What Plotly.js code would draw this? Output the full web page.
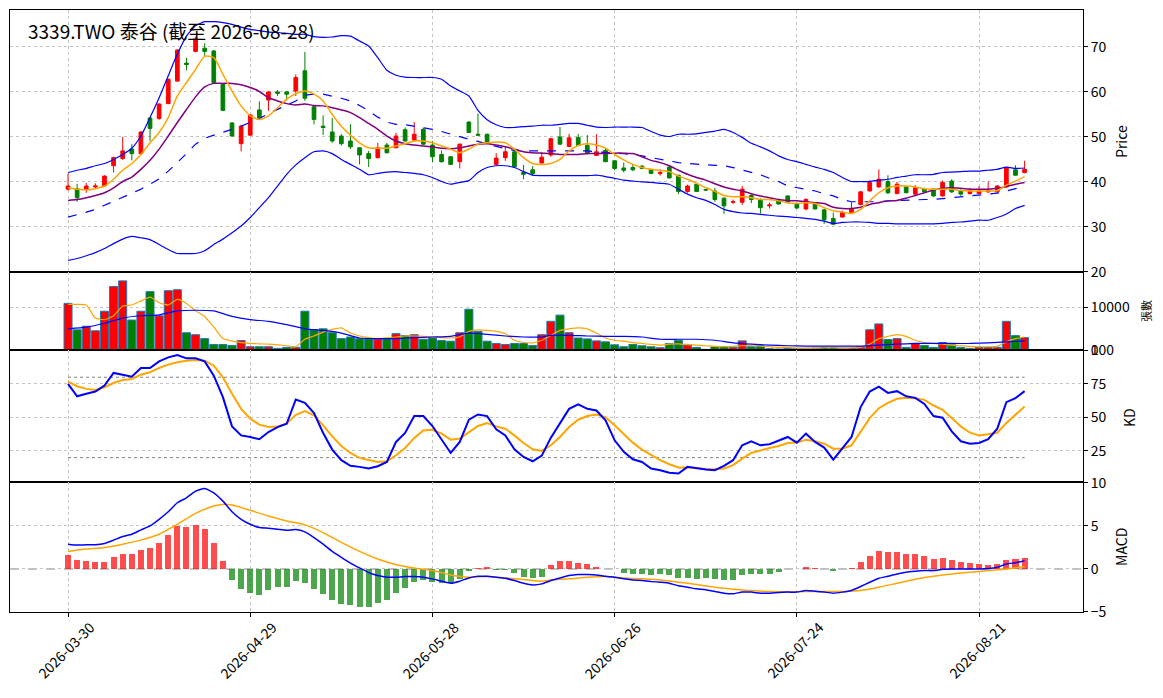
<!DOCTYPE html>
<html>
<head>
<meta charset="utf-8">
<script src="https://cdn.plot.ly/plotly-3.0.1.min.js"></script>
<style>html,body{margin:0;padding:0;background:#fff;}#chart{width:1163px;height:698px;}</style>
</head>
<body>
<div id="chart"></div>
<script>
const dates = ["2026-03-30","2026-03-31","2026-04-01","2026-04-02","2026-04-07","2026-04-08","2026-04-09","2026-04-10","2026-04-13","2026-04-14",
"2026-04-15","2026-04-16","2026-04-17","2026-04-20","2026-04-21","2026-04-22","2026-04-23","2026-04-24","2026-04-27","2026-04-28",
"2026-04-29","2026-04-30","2026-05-04","2026-05-05","2026-05-06","2026-05-07","2026-05-08","2026-05-11","2026-05-12","2026-05-13",
"2026-05-14","2026-05-15","2026-05-18","2026-05-19","2026-05-20","2026-05-21","2026-05-22","2026-05-25","2026-05-26","2026-05-27",
"2026-05-28","2026-05-29","2026-06-01","2026-06-02","2026-06-03","2026-06-04","2026-06-05","2026-06-08","2026-06-09","2026-06-10",
"2026-06-11","2026-06-12","2026-06-15","2026-06-16","2026-06-17","2026-06-18","2026-06-22","2026-06-23","2026-06-24","2026-06-25",
"2026-06-26","2026-06-29","2026-06-30","2026-07-01","2026-07-02","2026-07-03","2026-07-06","2026-07-07","2026-07-08","2026-07-09",
"2026-07-10","2026-07-13","2026-07-14","2026-07-15","2026-07-16","2026-07-17","2026-07-20","2026-07-21","2026-07-22","2026-07-23",
"2026-07-24","2026-07-27","2026-07-28","2026-07-29","2026-07-30","2026-07-31","2026-08-03","2026-08-04","2026-08-05","2026-08-06",
"2026-08-07","2026-08-10","2026-08-11","2026-08-12","2026-08-13","2026-08-14","2026-08-17","2026-08-18","2026-08-19","2026-08-20",
"2026-08-21","2026-08-24","2026-08-25","2026-08-26","2026-08-27","2026-08-28"];

const openP = [38.4,38.5,38.4,38.9,39.1,43.6,45.2,47.3,46.3,54.2,54.1,57.4,62.4,66.4,69.0,69.7,69.1,61.7,53.1,48.5,
50.4,56.0,58.2,60.0,60.0,60.2,64.7,56.7,52.4,51.1,50.2,49.1,47.6,46.3,45.4,48.2,47.6,51.6,49.3,51.7,
48.2,46.1,45.6,44.5,53.3,50.6,50.6,43.9,45.4,46.7,42.1,42.7,44.2,46.0,50.0,47.9,49.9,48.1,45.9,47.0,
44.7,43.1,43.2,43.5,42.8,41.9,43.3,41.5,37.9,39.5,38.3,38.0,36.4,35.5,35.5,37.0,36.1,34.7,36.1,36.9,
35.2,34.0,35.2,33.8,31.9,32.2,33.2,35.0,38.0,38.9,40.1,37.4,38.9,37.3,38.4,38.4,36.9,40.2,38.0,37.4,
37.4,37.8,37.8,38.9,42.7,42.1];
const highP = [41.9,39.6,39.8,39.7,41.5,45.6,50.0,48.4,51.3,54.4,57.5,63.0,69.5,67.6,72.3,70.8,69.3,61.9,53.3,52.6,
55.0,57.9,60.2,60.4,60.2,63.9,68.9,56.9,54.8,54.2,50.6,52.8,47.6,46.9,48.7,48.7,50.9,52.1,53.3,52.1,
49.1,47.0,45.7,48.5,53.5,55.2,50.7,46.4,47.9,46.9,43.8,43.5,46.7,49.8,52.2,50.7,50.7,50.4,50.6,47.5,
44.8,44.3,43.8,43.8,42.8,42.8,43.5,41.6,39.4,39.6,38.4,38.7,36.6,36.1,39.1,37.3,36.4,35.4,36.3,37.0,
35.4,36.4,35.3,34.1,33.2,33.6,35.5,38.0,40.4,42.8,41.5,40.0,39.0,39.3,38.7,38.6,40.3,40.6,38.4,38.7,
39.1,40.1,39.3,43.3,43.7,44.7];
const lowP = [38.1,35.6,37.6,38.5,38.9,42.1,44.9,44.8,46.1,49.1,53.8,57.3,62.3,64.8,68.8,68.0,62.0,55.8,50.1,46.8,
50.3,54.2,55.8,59.1,58.1,59.1,58.0,52.8,50.4,48.7,48.1,47.3,43.9,43.3,45.2,46.3,47.5,49.0,49.1,48.2,
44.4,44.3,43.8,43.0,50.9,50.2,48.5,43.7,44.7,43.3,40.6,41.4,44.1,45.6,48.3,47.7,48.0,46.1,45.8,44.4,
42.6,42.1,42.4,42.8,41.7,41.4,40.8,37.3,37.6,37.8,38.1,35.6,32.9,35.1,34.9,35.3,33.0,34.1,35.0,35.3,
34.1,33.7,33.9,30.7,30.5,32.1,33.0,34.8,37.9,38.7,37.3,37.3,37.5,37.1,37.6,36.7,36.7,37.6,36.9,37.3,
37.3,37.6,37.6,38.7,41.4,41.9];
const closeP = [39.1,36.5,39.1,39.1,41.3,45.4,46.9,46.3,51.1,51.9,57.3,62.8,69.3,66.1,71.8,69.0,62.1,55.9,50.2,52.4,
54.9,54.3,60.0,59.7,59.5,63.2,58.6,53.9,52.1,49.1,48.5,47.8,46.0,45.2,47.6,46.5,50.2,49.1,50.6,48.4,
45.6,44.5,43.9,48.4,51.0,50.4,48.7,45.3,46.7,43.4,41.7,41.9,45.5,49.6,48.4,49.8,48.1,46.3,46.7,44.5,
43.0,42.6,42.7,43.0,41.9,42.1,40.9,37.9,39.1,37.9,38.2,36.1,34.7,35.6,38.4,36.1,34.3,34.9,35.1,35.4,
34.2,36.1,34.0,31.6,30.6,33.2,34.1,37.8,39.9,40.6,37.6,39.5,37.6,38.7,37.8,36.9,39.9,37.8,37.3,38.0,
38.0,38.0,39.1,43.2,41.5,42.8];

const ma5 = [38.7,38.4,38.2,38.5,39.1,40.6,42.6,44.1,46.1,48.7,51.0,54.3,59.1,62.1,65.0,67.9,67.6,63.9,60.2,56.9,
54.7,53.9,54.7,56.5,58.4,59.6,60.2,59.5,58.0,55.0,52.4,50.4,48.7,47.6,47.5,47.5,48.0,48.5,49.1,49.1,
48.7,48.0,47.3,46.5,47.3,48.4,48.7,48.9,48.7,47.3,45.4,44.1,43.9,44.1,45.0,46.9,48.1,48.5,48.2,47.5,
46.1,44.9,43.9,43.2,42.8,42.6,42.3,41.3,40.6,39.7,38.7,37.9,37.0,36.7,36.7,36.5,36.1,36.1,35.8,35.4,
35.2,35.4,35.2,34.3,33.6,33.3,33.0,33.9,35.8,37.6,38.7,39.1,39.1,38.9,38.5,38.4,38.4,38.4,38.1,38.0,
38.0,38.0,38.1,39.3,40.2,41.2];
const ma10 = [35.9,36.1,36.5,37.0,37.6,38.7,40.1,41.1,42.8,44.8,47.3,50.2,53.2,56.1,58.9,61.1,61.9,61.9,61.9,61.6,
61.0,60.1,58.7,58.0,57.4,57.1,57.3,57.0,56.9,56.5,56.0,55.4,54.3,53.0,51.7,50.2,49.1,48.5,48.2,48.0,
47.8,47.5,47.4,47.6,48.0,48.4,48.5,48.2,47.8,47.3,46.7,46.5,46.4,46.3,46.1,46.1,46.1,46.3,46.3,46.3,
46.4,46.4,46.3,45.6,44.8,44.3,43.6,42.6,41.7,41.0,40.4,39.6,38.9,38.4,38.0,37.4,36.9,36.5,36.1,35.9,
35.8,35.6,35.4,35.2,34.4,34.1,34.1,34.4,35.0,35.4,35.8,35.9,36.4,37.0,37.6,38.2,38.6,38.7,38.6,38.4,
38.4,38.4,38.6,39.0,39.5,39.9];
const bbMid = [32.2,32.7,33.3,33.9,34.8,35.8,36.7,37.6,38.4,39.5,40.7,42.4,44.3,46.3,48.4,49.7,50.4,51.0,51.7,52.4,
53.2,54.1,55.2,56.1,57.0,58.0,59.3,59.5,59.5,59.1,58.6,58.0,57.0,55.8,54.4,53.3,52.8,52.7,52.4,52.1,
51.7,51.2,50.6,50.1,49.5,49.0,48.4,47.9,47.4,47.0,46.9,46.9,46.9,46.9,47.0,47.0,47.0,46.9,46.7,46.5,
46.4,46.3,46.1,45.8,45.4,45.0,44.7,44.3,44.1,43.9,43.8,43.7,43.6,43.2,42.7,42.1,41.6,40.8,40.1,39.1,
38.7,38.4,38.0,37.4,36.9,36.1,35.6,35.6,35.6,35.6,35.8,35.9,36.0,36.1,36.1,36.1,36.3,36.5,36.7,36.9,
37.0,37.3,37.5,38.0,38.5,39.0];
const bbUp = [42.1,42.6,43.0,43.6,44.1,45.0,46.1,47.5,50.2,54.3,58.7,63.6,68.4,72.4,74.7,75.6,75.6,75.4,75.0,74.4,
73.9,73.6,73.3,73.2,73.0,72.8,72.8,72.3,72.1,72.2,72.5,72.4,71.3,70.2,67.6,64.8,63.7,63.3,63.2,63.2,
63.2,62.8,61.3,60.2,59.1,55.9,53.8,52.7,52.1,52.1,52.3,52.4,52.6,52.6,52.8,53.0,53.0,52.6,52.2,52.1,
52.2,52.2,52.2,52.1,51.2,50.4,50.1,50.6,50.6,50.7,51.0,51.3,51.7,51.0,49.9,48.6,47.8,46.9,45.8,45.0,
44.5,43.9,43.3,42.8,42.1,41.0,40.1,40.1,40.1,40.4,40.6,41.0,41.3,41.6,41.6,41.7,42.1,42.2,42.3,42.4,
42.4,42.6,42.8,43.3,43.0,43.1];
const bbLow = [22.6,23.0,23.6,24.3,25.2,26.3,27.3,27.9,27.6,27.2,26.1,25.0,24.1,24.1,24.1,24.7,26.1,27.3,28.7,30.2,
32.1,34.3,36.5,39.1,41.7,43.8,45.4,46.7,46.9,46.3,45.0,43.9,42.8,41.6,41.9,42.2,42.3,42.1,41.9,41.6,
41.0,40.1,39.5,39.9,40.3,42.1,43.2,43.6,43.6,43.2,42.3,41.5,41.4,41.4,41.4,41.4,41.4,41.4,41.5,41.2,
40.8,40.4,40.2,40.0,39.9,39.7,39.5,38.4,37.3,36.5,35.9,35.0,33.9,33.4,33.1,33.0,32.8,32.6,32.4,32.3,
32.1,31.9,31.7,31.3,30.8,31.0,31.1,31.1,31.0,30.8,30.8,30.7,30.7,30.7,30.7,30.7,30.8,31.0,31.1,31.3,
31.5,31.5,32.1,32.9,34.1,34.8];

const volume = [10840,4700,5530,4470,9020,14780,16070,6970,9020,13570,7960,13800,14020,4020,3560,2650,1290,1290,1060,2200,
760,760,760,380,610,610,9020,4700,4930,4020,2650,3030,2650,2650,2650,2650,3790,3340,3560,2500,
2800,2200,2050,4020,9480,4320,2050,1520,1290,1520,1520,1060,3560,6670,8110,4020,2800,2580,2120,1900,
1210,760,1290,990,760,530,1520,2270,1140,610,150,760,760,610,2120,760,990,300,230,380,
380,380,450,610,610,450,450,760,4700,6060,2430,2650,610,1520,1060,610,1740,1210,610,380,
610,610,610,6670,3340,2880];
const volMa5 = [10600,10600,10460,7430,7050,7960,10230,10460,11370,12280,10990,10460,11750,10840,9100,7810,5310,2650,2050,1740,
1520,1440,1360,1210,990,760,2500,3260,4170,4780,5150,3940,3260,2880,2650,2800,3030,3260,3260,3180,
3030,2880,2800,3030,4320,4700,4550,4320,3790,2270,1740,1670,2270,3410,4550,4930,5150,4930,3940,2800,
2270,2050,1740,1520,1290,1140,1360,1440,1290,1140,990,830,760,830,990,990,910,760,610,610,
450,450,450,530,530,450,530,610,1360,2650,3180,3560,3180,2270,1740,1520,1360,1140,990,830,
760,760,830,1900,2650,3030];
const volMa20Idx = [0,2,4,6,8,10,12,14,16,18,20,22,24,26,28,30,32,34,36,38,40,42,44,46,48,50,52,53,55,57,59,61,63,65,67,69,71,73,75,77,79,81,83,85,87,89,91,93,95,97,99,101,103,105];
const volMa20 = [4930,5310,6220,7430,7960,8190,9100,9250,9100,7810,7050,6670,5910,4930,4550,3940,2800,2650,2650,2880,3030,3180,3940,3640,3260,3030,3030,3410,3410,3260,3180,3180,3030,2500,2500,2500,2270,1670,1360,1140,990,910,910,910,910,1140,1360,1520,1520,1520,1520,1670,1900,2120];

const kVal = [75.0,65.8,67.6,69.3,73.8,83.2,81.9,80.4,86.9,86.9,91.8,94.8,96.5,94.1,94.1,91.8,81.2,65.1,43.3,36.6,
35.4,33.7,39.1,42.8,45.3,63.4,60.9,53.2,38.4,26.0,18.1,13.9,13.1,11.9,13.6,16.8,31.7,38.4,51.0,51.0,
43.6,33.7,23.5,31.7,48.3,52.2,51.0,41.1,36.6,26.2,20.5,17.3,21.5,34.9,45.3,56.4,59.7,56.4,55.2,47.8,
32.9,24.3,18.8,16.8,11.9,10.6,8.7,8.2,13.1,11.9,11.1,10.6,13.9,18.1,29.2,32.2,29.2,30.0,32.9,35.4,
31.2,37.9,31.7,27.5,18.6,26.7,35.4,57.7,69.3,73.0,68.3,69.6,65.8,64.6,60.1,51.0,49.8,39.6,32.2,30.4,
30.9,33.7,41.6,61.4,64.4,69.6];
const dVal = [76.7,73.3,71.3,70.5,72.5,75.7,78.0,78.7,81.9,83.7,86.9,89.4,91.1,92.3,92.8,92.3,88.6,80.0,67.6,56.4,
49.0,44.6,42.8,43.3,45.3,52.0,54.7,51.5,44.1,35.9,28.7,23.5,19.8,18.1,16.8,17.3,21.8,27.2,34.7,40.3,
40.8,37.9,33.4,34.2,39.1,43.6,45.8,43.3,41.6,36.6,30.9,26.2,25.0,29.2,35.4,42.8,48.3,51.0,52.2,50.2,
44.1,37.4,31.2,26.0,21.8,18.1,15.1,12.6,12.6,11.9,11.6,11.4,11.9,14.4,19.3,23.5,25.5,27.2,28.7,30.9,
31.2,33.4,32.2,30.4,26.7,26.7,29.2,39.1,49.5,56.9,60.9,63.9,64.6,64.4,63.1,58.9,55.7,49.5,43.3,38.6,
36.6,37.4,38.6,45.8,52.0,58.2];
const kdLevels = [80, 20];

const dif = [2.88,2.77,2.81,2.81,2.96,3.35,3.77,4.04,4.54,5.00,5.77,6.65,7.69,8.27,9.04,9.35,8.85,7.88,6.65,5.77,
5.19,4.81,4.73,4.62,4.50,4.58,4.31,3.65,2.88,2.04,1.35,0.69,0.12,-0.42,-0.77,-0.96,-0.96,-0.88,-0.88,-0.96,
-1.15,-1.42,-1.65,-1.42,-1.04,-0.85,-0.85,-0.96,-1.08,-1.35,-1.65,-1.85,-1.73,-1.35,-1.04,-0.77,-0.65,-0.65,-0.69,-0.85,
-0.96,-1.15,-1.27,-1.35,-1.46,-1.54,-1.65,-1.96,-2.12,-2.31,-2.42,-2.62,-2.81,-2.88,-2.69,-2.69,-2.81,-2.81,-2.73,-2.69,
-2.69,-2.50,-2.58,-2.69,-2.81,-2.69,-2.50,-2.04,-1.54,-1.08,-0.85,-0.58,-0.38,-0.27,-0.19,-0.19,-0.04,0.00,0.00,0.00,
0.00,0.04,0.19,0.58,0.73,0.96];
const deaIdx = [0,2,4,6,8,10,12,14,16,17,18,20,22,24,26,28,30,32,34,36,38,40,42,44,46,48,50,52,53,55,57,59,61,63,65,67,69,71,73,75,77,79,81,83,85,87,89,91,93,95,97,99,101,103,105];
const dea = [2.04,2.31,2.50,2.88,3.35,4.04,5.19,6.46,7.31,7.50,7.42,6.81,6.15,5.58,5.12,4.23,3.08,2.04,1.15,0.50,0.12,-0.19,-0.69,-0.96,-0.88,-1.04,-1.23,-1.42,-1.27,-1.15,-0.96,-0.88,-1.04,-1.15,-1.27,-1.54,-1.81,-2.12,-2.35,-2.50,-2.62,-2.65,-2.62,-2.62,-2.62,-2.50,-2.12,-1.65,-1.19,-0.85,-0.58,-0.38,-0.19,0.00,0.27];
const macdHist = [1.65,1.08,0.96,0.85,0.85,1.42,1.77,1.77,2.23,2.46,3.04,3.96,5.00,4.88,5.12,4.65,3.04,0.96,-1.23,-2.38,
-2.81,-3.08,-2.50,-2.15,-2.04,-1.42,-1.65,-2.35,-2.96,-3.62,-4.08,-4.23,-4.42,-4.42,-3.96,-3.62,-2.81,-2.23,-1.54,-1.27,
-1.46,-1.62,-1.62,-1.12,-0.27,0.12,0.23,-0.08,-0.12,-0.50,-0.96,-1.08,-0.90,0.50,0.96,0.96,0.73,0.62,0.27,0.02,
-0.02,-0.42,-0.54,-0.54,-0.65,-0.54,-0.65,-1.00,-1.00,-1.12,-1.00,-1.12,-1.23,-1.23,-0.65,-0.54,-0.54,-0.54,-0.31,-0.04,
-0.04,0.27,0.12,-0.04,-0.27,-0.04,0.12,0.85,1.54,2.12,2.00,2.00,1.77,1.77,1.54,1.19,1.31,1.08,0.85,0.73,
0.62,0.50,0.62,1.08,1.19,1.31];

const tickIdx = [0, 20, 40, 60, 80, 100];
const titleText = "3339.TWO 泰谷 (截至 2026-08-28)";

const idx = dates.map((d, i) => i);
const FONT = "Noto Sans CJK TC, Noto Sans, DejaVu Sans, sans-serif";
const GRID = '#c4c4c4';

const traces = [];
traces.push({type:'candlestick', x: idx, open: openP, high: highP, low: lowP, close: closeP,
  xaxis:'x', yaxis:'y',
  increasing:{line:{color:'#ff0000', width:1}, fillcolor:'#ff0000'},
  decreasing:{line:{color:'#008000', width:1}, fillcolor:'#008000'},
  whiskerwidth:0, hoverinfo:'skip', showlegend:false});
traces.push({type:'scatter', mode:'lines', x: idx, y: bbUp, xaxis:'x', yaxis:'y', line:{color:'#0000ff', width:1.2, shape:'spline', smoothing:0.5}, hoverinfo:'skip'});
traces.push({type:'scatter', mode:'lines', x: idx, y: bbLow, xaxis:'x', yaxis:'y', line:{color:'#0000ff', width:1.2, shape:'spline', smoothing:0.5}, hoverinfo:'skip'});
traces.push({type:'scatter', mode:'lines', x: idx, y: bbMid, xaxis:'x', yaxis:'y', line:{color:'#0000ff', width:1.2, dash:'dash'}, hoverinfo:'skip'});
traces.push({type:'scatter', mode:'lines', x: idx, y: ma10, xaxis:'x', yaxis:'y', line:{color:'#800080', width:1.5, shape:'spline', smoothing:0.6}, hoverinfo:'skip'});
traces.push({type:'scatter', mode:'lines', x: idx, y: ma5, xaxis:'x', yaxis:'y', line:{color:'#ffa500', width:1.5, shape:'spline', smoothing:0.6}, hoverinfo:'skip'});

const volColors = idx.map(i => closeP[i] >= openP[i] ? '#ff0000' : '#008000');
traces.push({type:'bar', x: idx, y: volume, xaxis:'x2', yaxis:'y2', width:0.88,
  marker:{color: volColors, line:{color:'#1f77b4', width:1}}, hoverinfo:'skip'});
traces.push({type:'scatter', mode:'lines', x: idx, y: volMa5, xaxis:'x2', yaxis:'y2', line:{color:'#ffa500', width:1.2, shape:'spline', smoothing:0.5}, hoverinfo:'skip'});
traces.push({type:'scatter', mode:'lines', x: volMa20Idx, y: volMa20, xaxis:'x2', yaxis:'y2', line:{color:'#0000ff', width:1.2, shape:'spline', smoothing:0.5}, hoverinfo:'skip'});

kdLevels.forEach(v => {
  traces.push({type:'scatter', mode:'lines', x:[idx[0], idx[idx.length-1]], y:[v, v], xaxis:'x3', yaxis:'y3',
    line:{color:'#808080', width:1, dash:'dot'}, hoverinfo:'skip'});
});
traces.push({type:'scatter', mode:'lines', x: idx, y: dVal, xaxis:'x3', yaxis:'y3', line:{color:'#ffa500', width:2}, hoverinfo:'skip'});
traces.push({type:'scatter', mode:'lines', x: idx, y: kVal, xaxis:'x3', yaxis:'y3', line:{color:'#0000ff', width:2}, hoverinfo:'skip'});

const histColors = macdHist.map(v => v >= 0 ? 'rgba(255,0,0,0.7)' : 'rgba(0,128,0,0.7)');
traces.push({type:'bar', x: idx, y: macdHist, xaxis:'x4', yaxis:'y4', width:0.66,
  marker:{color: histColors, line:{width:0}}, hoverinfo:'skip'});
traces.push({type:'scatter', mode:'lines', x: deaIdx, y: dea, xaxis:'x4', yaxis:'y4', line:{color:'#ffa500', width:1.5, shape:'spline', smoothing:0.6}, hoverinfo:'skip'});
traces.push({type:'scatter', mode:'lines', x: idx, y: dif, xaxis:'x4', yaxis:'y4', line:{color:'#0000ff', width:1.5, shape:'spline', smoothing:0.5}, hoverinfo:'skip'});

const xr = [-6.37, 111.41];
function xax(anchor, bottom) {
  return {anchor: anchor, domain:[0,1], range: xr, showline:true, mirror:true, linecolor:'#000', linewidth:1,
    tickvals: tickIdx, showticklabels: false,
    ticks: bottom ? 'outside' : '', ticklen:4, tickcolor:'#000',
    showgrid:true, gridcolor:GRID, griddash:'dot', gridwidth:1, zeroline:false,
    rangeslider:{visible:false}, fixedrange:true};
}
function yax(anchor, domain, range, tickvals, fmt) {
  return {anchor: anchor, domain: domain, range: range, side:'right', showline:true, mirror:true,
    linecolor:'#000', linewidth:1, tickvals: tickvals, tickformat: fmt, ticks:'outside', ticklen:4, tickcolor:'#000',
    tickfont:{family:FONT, size:14, color:'#000'}, showgrid:true, gridcolor:GRID, griddash:'dot', gridwidth:1,
    zeroline:false, fixedrange:true};
}

const annotations = [
  {text: titleText, xref:'paper', yref:'paper', x:0.0149, y:0.966, xanchor:'left', yanchor:'middle', showarrow:false,
   font:{family:FONT, size:19, color:'#000'}},
  {text:'Price', xref:'paper', yref:'paper', x:1.0354, y:0.7824, xanchor:'center', yanchor:'middle', textangle:-90, showarrow:false,
   font:{family:FONT, size:14, color:'#000'}},
  {text:'張數', xref:'paper', yref:'paper', x:1.0587, y:0.5, xanchor:'center', yanchor:'middle', textangle:-90, showarrow:false,
   font:{family:FONT, size:11, color:'#000'}},
  {text:'KD', xref:'paper', yref:'paper', x:1.043, y:0.3223, xanchor:'center', yanchor:'middle', textangle:-90, showarrow:false,
   font:{family:FONT, size:14, color:'#000'}},
  {text:'MACD', xref:'paper', yref:'paper', x:1.0354, y:0.108, xanchor:'center', yanchor:'middle', textangle:-90, showarrow:false,
   font:{family:FONT, size:14, color:'#000'}}
];
tickIdx.forEach(i => {
  annotations.push({text: dates[i], xref:'x4', yref:'paper', x: i - 0.25, y: -0.063, xanchor:'center', yanchor:'middle',
    textangle:-45, showarrow:false, font:{family:FONT, size:14, color:'#000'}});
});

const layout = {
  width:1163, height:698, margin:{l:10, r:80, t:10, b:86},
  paper_bgcolor:'#fff', plot_bgcolor:'#fff', showlegend:false, boxgap:0.42,
  bargap:0,
  font:{family:FONT, color:'#000'},
  xaxis: xax('y', false),
  xaxis2: xax('y2', false),
  xaxis3: xax('y3', false),
  xaxis4: xax('y4', true),
  yaxis: yax('x', [0.5648, 1], [20, 78.2], [20,30,40,50,60,70], 'd'),
  yaxis2: yax('x2', [0.4352, 0.5648], [0, 18140], [0, 10000], 'd'),
  yaxis3: yax('x3', [0.2159, 0.4352], [1.8, 100.3], [25,50,75,100], 'd'),
  yaxis4: yax('x4', [0, 0.2159], [-5.0, 10.1], [-5,0,5,10], 'd'),
  shapes: [
    {type:'line', xref:'paper', yref:'y4', x0:0, x1:1, y0:0, y1:0, line:{color:'#808080', width:1, dash:'dash'}, layer:'below'}
  ],
  annotations: annotations
};

Plotly.newPlot('chart', traces, layout, {staticPlot:true, displayModeBar:false});
</script>
</body>
</html>
